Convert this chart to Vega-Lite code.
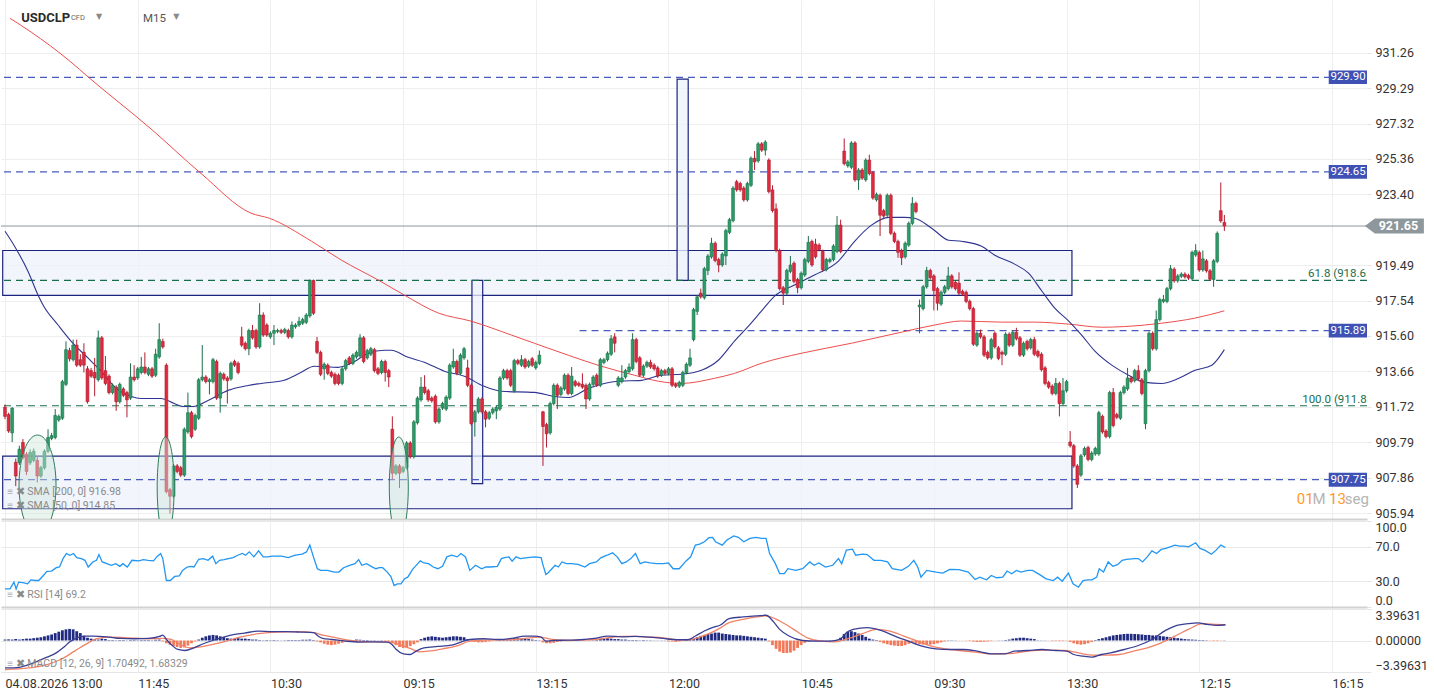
{
  "$schema": "https://vega.github.io/schema/vega-lite/v6.json",
  "padding": 0,
  "background": "white",
  "spacing": 0,
  "config": {
    "view": {"stroke": null},
    "font": "Roboto",
    "axis": {"labelFont": "Roboto", "labelColor": "#333333", "labelFontSize": 12.5, "gridColor": "#eeeeee", "labelOverlap": false}
  },
  "datasets": {
    "candles": [
      {"i":0,"o":911.7,"h":911.85,"l":911.05,"c":911.2,"m":0.1},
      {"i":1,"o":911.3,"h":911.4,"l":910.3,"c":910.4,"m":0.12},
      {"i":2,"o":910.3,"h":911.7,"l":909.8,"c":911.65,"m":0.1},
      {"i":3,"o":908.7,"h":908.9,"l":907.4,"c":907.95,"m":0.15},
      {"i":4,"o":908.67,"h":909.6,"l":908.55,"c":909.41,"m":0.1},
      {"i":5,"o":909.78,"h":909.96,"l":908.85,"c":908.95,"m":0.15},
      {"i":6,"o":909.13,"h":909.25,"l":908.0,"c":908.2,"m":0.2},
      {"i":7,"o":908.67,"h":909.4,"l":908.55,"c":909.23,"m":0.2},
      {"i":8,"o":908.8,"h":909.45,"l":908.7,"c":909.3,"m":0.25},
      {"i":9,"o":908.8,"h":909.0,"l":907.6,"c":907.95,"m":0.3},
      {"i":10,"o":907.95,"h":908.5,"l":907.85,"c":908.4,"m":0.35},
      {"i":11,"o":908.4,"h":909.4,"l":908.3,"c":909.3,"m":0.45},
      {"i":12,"o":909.3,"h":910.5,"l":909.2,"c":910.05,"m":0.55},
      {"i":13,"o":910.0,"h":910.3,"l":909.9,"c":910.15,"m":0.65},
      {"i":14,"o":910.05,"h":911.6,"l":909.95,"c":911.25,"m":0.8},
      {"i":15,"o":911.0,"h":911.3,"l":910.9,"c":911.2,"m":0.95},
      {"i":16,"o":911.1,"h":913.2,"l":911.0,"c":913.1,"m":1.1},
      {"i":17,"o":912.95,"h":915.3,"l":912.85,"c":914.85,"m":1.2},
      {"i":18,"o":914.8,"h":914.95,"l":914.2,"c":914.35,"m":1.25},
      {"i":19,"o":914.3,"h":915.4,"l":914.2,"c":915.1,"m":1.2},
      {"i":20,"o":915.1,"h":915.4,"l":913.9,"c":914.0,"m":1.0},
      {"i":21,"o":914.3,"h":914.6,"l":913.9,"c":914.0,"m":0.8},
      {"i":22,"o":914.7,"h":915.2,"l":913.6,"c":914.0,"m":0.5},
      {"i":23,"o":913.8,"h":913.95,"l":911.9,"c":912.0,"m":0.3},
      {"i":24,"o":913.7,"h":913.85,"l":913.3,"c":913.4,"m":0.2},
      {"i":25,"o":913.6,"h":914.4,"l":912.3,"c":913.3,"m":0.15},
      {"i":26,"o":913.2,"h":915.9,"l":913.1,"c":915.5,"m":0.1},
      {"i":27,"o":915.5,"h":915.6,"l":913.2,"c":913.3,"m":0.2},
      {"i":28,"o":913.7,"h":914.5,"l":912.9,"c":913.0,"m":0.15},
      {"i":29,"o":913.4,"h":913.5,"l":912.4,"c":912.5,"m":0.05},
      {"i":30,"o":912.5,"h":913.0,"l":912.4,"c":912.9,"m":0.05},
      {"i":31,"o":912.8,"h":912.9,"l":911.5,"c":912.0,"m":0.03},
      {"i":32,"o":912.0,"h":913.05,"l":911.9,"c":912.95,"m":0.05},
      {"i":33,"o":912.7,"h":912.8,"l":912.25,"c":912.35,"m":0.05},
      {"i":34,"o":912.5,"h":912.6,"l":911.15,"c":912.1,"m":0.02},
      {"i":35,"o":912.2,"h":914.1,"l":912.1,"c":913.35,"m":0.05},
      {"i":36,"o":913.35,"h":914.0,"l":913.1,"c":913.2,"m":0.05},
      {"i":37,"o":913.3,"h":913.9,"l":913.2,"c":913.8,"m":0.03},
      {"i":38,"o":913.6,"h":914.45,"l":913.5,"c":913.9,"m":0.05},
      {"i":39,"o":913.9,"h":914.7,"l":913.5,"c":913.6,"m":0.05},
      {"i":40,"o":913.5,"h":913.9,"l":913.4,"c":913.8,"m":0.05},
      {"i":41,"o":913.8,"h":913.9,"l":913.3,"c":913.4,"m":0.03},
      {"i":42,"o":913.45,"h":914.9,"l":913.35,"c":914.6,"m":0.08},
      {"i":43,"o":914.45,"h":916.3,"l":914.35,"c":915.4,"m":0.1},
      {"i":44,"o":915.3,"h":915.45,"l":914.9,"c":915.0,"m":-0.1},
      {"i":45,"o":914.0,"h":914.1,"l":907.0,"c":907.1,"m":-0.3},
      {"i":46,"o":907.2,"h":907.3,"l":905.9,"c":906.85,"m":-0.45},
      {"i":47,"o":906.85,"h":908.6,"l":906.75,"c":908.5,"m":-0.6},
      {"i":48,"o":908.5,"h":908.6,"l":908.1,"c":908.2,"m":-0.7},
      {"i":49,"o":908.4,"h":908.5,"l":907.9,"c":908.0,"m":-0.8},
      {"i":50,"o":908.0,"h":910.6,"l":907.9,"c":910.5,"m":-0.75},
      {"i":51,"o":910.35,"h":912.5,"l":910.25,"c":911.4,"m":-0.55},
      {"i":52,"o":911.4,"h":911.5,"l":910.0,"c":910.1,"m":-0.3},
      {"i":53,"o":910.5,"h":911.35,"l":910.4,"c":911.25,"m":-0.1},
      {"i":54,"o":911.1,"h":913.3,"l":911.0,"c":913.2,"m":0.1},
      {"i":55,"o":913.2,"h":915.1,"l":913.1,"c":913.35,"m":0.3},
      {"i":56,"o":913.35,"h":913.45,"l":913.0,"c":913.1,"m":0.45},
      {"i":57,"o":913.1,"h":913.3,"l":912.4,"c":913.2,"m":0.55},
      {"i":58,"o":913.1,"h":914.4,"l":913.0,"c":914.3,"m":0.6},
      {"i":59,"o":914.2,"h":914.3,"l":912.1,"c":912.2,"m":0.55},
      {"i":60,"o":912.2,"h":913.65,"l":911.4,"c":913.55,"m":0.45},
      {"i":61,"o":913.5,"h":913.6,"l":913.15,"c":913.25,"m":0.35},
      {"i":62,"o":913.3,"h":913.4,"l":911.9,"c":913.15,"m":0.25},
      {"i":63,"o":913.25,"h":914.2,"l":913.15,"c":914.1,"m":0.2},
      {"i":64,"o":914.2,"h":914.3,"l":913.9,"c":914.0,"m":0.2},
      {"i":65,"o":914.1,"h":914.2,"l":913.5,"c":913.6,"m":0.25},
      {"i":66,"o":915.55,"h":916.1,"l":915.0,"c":915.1,"m":0.2},
      {"i":67,"o":915.2,"h":915.3,"l":914.8,"c":914.9,"m":0.2},
      {"i":68,"o":914.9,"h":916.0,"l":914.55,"c":915.9,"m":0.15},
      {"i":69,"o":915.9,"h":916.2,"l":915.4,"c":915.5,"m":0.1},
      {"i":70,"o":915.9,"h":916.0,"l":914.9,"c":915.0,"m":0.1},
      {"i":71,"o":915.0,"h":917.4,"l":914.9,"c":916.75,"m":0.05},
      {"i":72,"o":916.75,"h":916.9,"l":915.55,"c":915.65,"m":0.03},
      {"i":73,"o":916.2,"h":916.3,"l":915.55,"c":915.65,"m":0.05},
      {"i":74,"o":915.55,"h":915.85,"l":915.45,"c":915.75,"m":0.03},
      {"i":75,"o":915.75,"h":916.2,"l":915.1,"c":915.9,"m":0.05},
      {"i":76,"o":915.85,"h":916.0,"l":915.75,"c":915.9,"m":0.03},
      {"i":77,"o":915.9,"h":916.0,"l":915.7,"c":915.8,"m":0.02},
      {"i":78,"o":915.8,"h":916.05,"l":915.7,"c":915.95,"m":0.03},
      {"i":79,"o":915.9,"h":916.0,"l":915.45,"c":915.55,"m":0.05},
      {"i":80,"o":915.55,"h":916.4,"l":915.45,"c":916.2,"m":0.05},
      {"i":81,"o":916.1,"h":916.3,"l":916.0,"c":916.2,"m":0.05},
      {"i":82,"o":916.2,"h":916.65,"l":916.1,"c":916.4,"m":0.05},
      {"i":83,"o":916.3,"h":916.6,"l":916.2,"c":916.5,"m":0.08},
      {"i":84,"o":916.35,"h":916.85,"l":916.25,"c":916.75,"m":0.08},
      {"i":85,"o":916.7,"h":918.7,"l":916.6,"c":918.65,"m":0.1},
      {"i":86,"o":918.65,"h":918.7,"l":916.75,"c":916.85,"m":0.05},
      {"i":87,"o":915.3,"h":915.55,"l":914.6,"c":914.7,"m":-0.1},
      {"i":88,"o":914.7,"h":914.8,"l":913.4,"c":913.5,"m":-0.2},
      {"i":89,"o":913.8,"h":914.15,"l":913.2,"c":914.05,"m":-0.35},
      {"i":90,"o":914.0,"h":914.1,"l":913.45,"c":913.55,"m":-0.45},
      {"i":91,"o":913.6,"h":913.7,"l":913.3,"c":913.4,"m":-0.5},
      {"i":92,"o":913.5,"h":913.6,"l":912.9,"c":913.0,"m":-0.45},
      {"i":93,"o":913.45,"h":913.55,"l":912.9,"c":913.0,"m":-0.35},
      {"i":94,"o":913.0,"h":913.9,"l":912.9,"c":913.8,"m":-0.25},
      {"i":95,"o":913.8,"h":914.35,"l":913.7,"c":914.25,"m":-0.15},
      {"i":96,"o":914.4,"h":914.5,"l":914.0,"c":914.1,"m":0.05},
      {"i":97,"o":914.1,"h":914.65,"l":914.0,"c":914.55,"m":0.05},
      {"i":98,"o":914.45,"h":914.8,"l":914.35,"c":914.7,"m":0.1},
      {"i":99,"o":914.5,"h":915.7,"l":914.4,"c":915.5,"m":0.08},
      {"i":100,"o":915.5,"h":915.6,"l":914.1,"c":914.2,"m":0.05},
      {"i":101,"o":914.4,"h":914.9,"l":914.3,"c":914.8,"m":0.05},
      {"i":102,"o":914.6,"h":915.0,"l":914.5,"c":914.9,"m":0.03},
      {"i":103,"o":914.85,"h":914.95,"l":913.6,"c":913.7,"m":0.03},
      {"i":104,"o":913.8,"h":913.9,"l":913.45,"c":913.55,"m":0.02},
      {"i":105,"o":913.6,"h":914.3,"l":913.5,"c":914.2,"m":0.03},
      {"i":106,"o":914.2,"h":914.3,"l":913.1,"c":913.6,"m":-0.05},
      {"i":107,"o":913.7,"h":913.8,"l":912.8,"c":913.35,"m":-0.15},
      {"i":108,"o":910.5,"h":911.2,"l":907.75,"c":908.1,"m":-0.3},
      {"i":109,"o":908.1,"h":908.6,"l":908.0,"c":908.5,"m":-0.5},
      {"i":110,"o":908.5,"h":908.6,"l":907.3,"c":908.1,"m":-0.7},
      {"i":111,"o":908.2,"h":908.5,"l":908.1,"c":908.4,"m":-0.8},
      {"i":112,"o":908.4,"h":909.85,"l":908.3,"c":909.75,"m":-0.75},
      {"i":113,"o":909.75,"h":909.85,"l":908.9,"c":909.0,"m":-0.6},
      {"i":114,"o":909.0,"h":911.0,"l":908.9,"c":910.9,"m":-0.4},
      {"i":115,"o":910.85,"h":912.3,"l":910.75,"c":912.2,"m":-0.2},
      {"i":116,"o":912.1,"h":913.35,"l":912.0,"c":912.8,"m":0.15},
      {"i":117,"o":912.8,"h":913.45,"l":912.4,"c":912.5,"m":0.3},
      {"i":118,"o":912.6,"h":912.7,"l":912.0,"c":912.1,"m":0.4},
      {"i":119,"o":912.2,"h":912.3,"l":911.95,"c":912.05,"m":0.45},
      {"i":120,"o":912.3,"h":912.4,"l":910.8,"c":910.9,"m":0.4},
      {"i":121,"o":910.9,"h":911.7,"l":910.8,"c":911.6,"m":0.35},
      {"i":122,"o":911.65,"h":912.0,"l":911.55,"c":911.9,"m":0.3},
      {"i":123,"o":911.6,"h":912.35,"l":911.5,"c":912.25,"m":0.35},
      {"i":124,"o":912.2,"h":914.1,"l":912.1,"c":914.0,"m":0.4},
      {"i":125,"o":913.9,"h":914.9,"l":913.8,"c":914.2,"m":0.45},
      {"i":126,"o":914.2,"h":914.3,"l":913.45,"c":913.55,"m":0.45},
      {"i":127,"o":913.55,"h":914.65,"l":913.45,"c":914.55,"m":0.4},
      {"i":128,"o":914.4,"h":915.0,"l":914.3,"c":914.9,"m":0.35},
      {"i":129,"o":913.85,"h":914.3,"l":912.8,"c":912.9,"m":0.15},
      {"i":130,"o":912.9,"h":913.0,"l":910.7,"c":910.8,"m":-0.05},
      {"i":131,"o":910.9,"h":911.55,"l":910.1,"c":911.45,"m":-0.15},
      {"i":132,"o":911.45,"h":912.25,"l":911.35,"c":912.15,"m":-0.2},
      {"i":133,"o":912.15,"h":912.25,"l":911.35,"c":911.45,"m":-0.2},
      {"i":134,"o":911.45,"h":911.55,"l":910.6,"c":911.05,"m":-0.15},
      {"i":135,"o":911.1,"h":911.5,"l":911.0,"c":911.4,"m":-0.1},
      {"i":136,"o":911.4,"h":911.7,"l":911.3,"c":911.6,"m":-0.05},
      {"i":137,"o":911.5,"h":911.8,"l":911.05,"c":911.7,"m":0.03},
      {"i":138,"o":911.6,"h":913.4,"l":911.5,"c":913.3,"m":0.05},
      {"i":139,"o":913.3,"h":913.8,"l":913.2,"c":913.7,"m":0.1},
      {"i":140,"o":913.7,"h":913.8,"l":913.2,"c":913.3,"m":0.15},
      {"i":141,"o":913.7,"h":913.8,"l":912.8,"c":912.9,"m":0.2},
      {"i":142,"o":912.6,"h":914.35,"l":912.5,"c":914.25,"m":0.25},
      {"i":143,"o":914.25,"h":914.35,"l":914.0,"c":914.1,"m":0.25},
      {"i":144,"o":914.0,"h":914.55,"l":913.9,"c":914.3,"m":0.2},
      {"i":145,"o":914.3,"h":914.4,"l":913.8,"c":913.9,"m":0.2},
      {"i":146,"o":913.95,"h":914.3,"l":913.85,"c":914.2,"m":0.15},
      {"i":147,"o":914.35,"h":914.45,"l":913.9,"c":914.0,"m":0.1},
      {"i":148,"o":913.85,"h":914.25,"l":913.75,"c":914.15,"m":0.05},
      {"i":149,"o":914.1,"h":914.8,"l":914.0,"c":914.55,"m":0.03},
      {"i":150,"o":911.45,"h":911.5,"l":908.5,"c":910.65,"m":-0.2},
      {"i":151,"o":910.75,"h":910.85,"l":909.5,"c":910.25,"m":-0.3},
      {"i":152,"o":910.3,"h":912.0,"l":910.2,"c":911.9,"m":-0.3},
      {"i":153,"o":911.9,"h":913.0,"l":911.8,"c":912.9,"m":-0.25},
      {"i":154,"o":912.9,"h":913.0,"l":911.6,"c":912.35,"m":-0.15},
      {"i":155,"o":912.4,"h":912.85,"l":912.3,"c":912.75,"m":-0.1},
      {"i":156,"o":912.7,"h":913.55,"l":912.6,"c":913.45,"m":-0.03},
      {"i":157,"o":913.45,"h":913.55,"l":912.35,"c":912.45,"m":0.02},
      {"i":158,"o":912.45,"h":913.9,"l":912.35,"c":913.4,"m":0.03},
      {"i":159,"o":913.1,"h":913.2,"l":912.8,"c":912.9,"m":-0.02},
      {"i":160,"o":913.0,"h":913.1,"l":912.8,"c":912.9,"m":0.02},
      {"i":161,"o":912.95,"h":913.55,"l":912.7,"c":912.8,"m":0.03},
      {"i":162,"o":912.9,"h":913.0,"l":911.6,"c":912.15,"m":-0.03},
      {"i":163,"o":912.15,"h":913.05,"l":912.05,"c":912.95,"m":0.02},
      {"i":164,"o":912.95,"h":913.45,"l":912.85,"c":913.35,"m":0.03},
      {"i":165,"o":913.45,"h":913.55,"l":912.8,"c":912.9,"m":0.1},
      {"i":166,"o":912.9,"h":914.4,"l":912.8,"c":914.3,"m":0.15},
      {"i":167,"o":914.15,"h":914.4,"l":914.05,"c":914.3,"m":0.2},
      {"i":168,"o":914.3,"h":914.75,"l":914.2,"c":914.65,"m":0.25},
      {"i":169,"o":914.6,"h":915.65,"l":914.5,"c":915.45,"m":0.2},
      {"i":170,"o":915.55,"h":915.75,"l":914.7,"c":915.2,"m":0.15},
      {"i":171,"o":912.9,"h":913.4,"l":912.8,"c":913.3,"m":0.15},
      {"i":172,"o":913.1,"h":914.0,"l":913.0,"c":913.3,"m":0.1},
      {"i":173,"o":913.35,"h":913.8,"l":913.25,"c":913.7,"m":0.1},
      {"i":174,"o":913.65,"h":914.1,"l":913.55,"c":913.9,"m":0.05},
      {"i":175,"o":913.8,"h":915.75,"l":913.7,"c":915.4,"m":0.05},
      {"i":176,"o":915.4,"h":915.5,"l":914.1,"c":914.2,"m":0.05},
      {"i":177,"o":914.4,"h":914.5,"l":913.35,"c":913.45,"m":0.03},
      {"i":178,"o":913.45,"h":914.05,"l":913.35,"c":913.95,"m":0.05},
      {"i":179,"o":913.95,"h":914.25,"l":913.85,"c":914.15,"m":0.03},
      {"i":180,"o":914.15,"h":914.3,"l":913.8,"c":913.9,"m":0.03},
      {"i":181,"o":914.0,"h":914.1,"l":913.7,"c":913.8,"m":0.02},
      {"i":182,"o":913.85,"h":913.95,"l":913.3,"c":913.4,"m":0.02},
      {"i":183,"o":913.45,"h":913.8,"l":913.35,"c":913.7,"m":0.02},
      {"i":184,"o":913.7,"h":913.8,"l":913.45,"c":913.55,"m":0.02},
      {"i":185,"o":913.55,"h":913.9,"l":913.45,"c":913.8,"m":-0.1},
      {"i":186,"o":913.8,"h":913.9,"l":912.8,"c":912.9,"m":-0.1},
      {"i":187,"o":912.95,"h":913.05,"l":912.75,"c":912.85,"m":-0.15},
      {"i":188,"o":912.85,"h":913.15,"l":912.75,"c":913.05,"m":-0.1},
      {"i":189,"o":912.9,"h":913.7,"l":912.8,"c":913.6,"m":-0.05},
      {"i":190,"o":913.6,"h":914.15,"l":913.5,"c":914.05,"m":0.05},
      {"i":191,"o":914.0,"h":914.9,"l":913.9,"c":914.4,"m":0.1},
      {"i":192,"o":915.4,"h":917.15,"l":915.3,"c":917.05,"m":0.2},
      {"i":193,"o":916.95,"h":917.85,"l":916.75,"c":917.75,"m":0.35},
      {"i":194,"o":917.95,"h":918.2,"l":917.65,"c":917.75,"m":0.5},
      {"i":195,"o":917.7,"h":919.4,"l":917.6,"c":919.3,"m":0.6},
      {"i":196,"o":919.2,"h":920.1,"l":918.95,"c":920.0,"m":0.7},
      {"i":197,"o":919.95,"h":921.0,"l":919.85,"c":920.7,"m":0.75},
      {"i":198,"o":920.7,"h":920.8,"l":919.65,"c":919.75,"m":0.85},
      {"i":199,"o":919.8,"h":919.9,"l":919.1,"c":919.5,"m":0.85},
      {"i":200,"o":919.5,"h":920.2,"l":919.4,"c":920.1,"m":0.75},
      {"i":201,"o":920.0,"h":921.5,"l":919.5,"c":921.4,"m":0.7},
      {"i":202,"o":921.3,"h":922.1,"l":921.2,"c":922.0,"m":0.65},
      {"i":203,"o":921.95,"h":923.85,"l":921.85,"c":923.75,"m":0.6},
      {"i":204,"o":924.1,"h":924.2,"l":923.55,"c":923.65,"m":0.55},
      {"i":205,"o":924.0,"h":924.1,"l":923.55,"c":923.65,"m":0.55},
      {"i":206,"o":923.75,"h":923.85,"l":923.0,"c":923.1,"m":0.5},
      {"i":207,"o":923.1,"h":924.1,"l":923.0,"c":924.0,"m":0.45},
      {"i":208,"o":923.9,"h":925.5,"l":923.8,"c":925.4,"m":0.4},
      {"i":209,"o":925.4,"h":925.8,"l":924.75,"c":925.2,"m":0.35},
      {"i":210,"o":925.25,"h":926.3,"l":925.15,"c":926.2,"m":0.3},
      {"i":211,"o":926.2,"h":926.3,"l":925.75,"c":925.85,"m":0.25},
      {"i":212,"o":925.85,"h":926.4,"l":925.55,"c":926.3,"m":0.2},
      {"i":213,"o":925.3,"h":925.4,"l":923.45,"c":923.55,"m":-0.1},
      {"i":214,"o":923.65,"h":923.9,"l":922.4,"c":922.5,"m":-0.5},
      {"i":215,"o":922.6,"h":922.9,"l":920.2,"c":920.3,"m":-0.9},
      {"i":216,"o":920.3,"h":920.4,"l":918.1,"c":918.2,"m":-1.2},
      {"i":217,"o":918.25,"h":918.35,"l":917.3,"c":917.95,"m":-1.35},
      {"i":218,"o":917.95,"h":919.3,"l":917.85,"c":919.2,"m":-1.35},
      {"i":219,"o":919.15,"h":920.0,"l":919.05,"c":919.5,"m":-1.3},
      {"i":220,"o":919.6,"h":919.7,"l":918.5,"c":918.6,"m":-1.1},
      {"i":221,"o":918.7,"h":918.8,"l":917.95,"c":918.25,"m":-0.8},
      {"i":222,"o":918.25,"h":919.15,"l":918.15,"c":919.05,"m":-0.5},
      {"i":223,"o":918.95,"h":919.9,"l":918.85,"c":919.8,"m":-0.25},
      {"i":224,"o":919.7,"h":921.1,"l":919.6,"c":920.75,"m":-0.1},
      {"i":225,"o":920.8,"h":920.9,"l":919.4,"c":919.5,"m":0.02},
      {"i":226,"o":920.65,"h":920.95,"l":919.85,"c":919.95,"m":0.02},
      {"i":227,"o":920.6,"h":920.7,"l":920.25,"c":920.35,"m":0.03},
      {"i":228,"o":920.25,"h":920.35,"l":919.15,"c":919.25,"m":0.02},
      {"i":229,"o":919.25,"h":919.9,"l":919.15,"c":919.8,"m":0.02},
      {"i":230,"o":919.7,"h":919.9,"l":919.6,"c":919.8,"m":0.03},
      {"i":231,"o":919.8,"h":920.65,"l":919.7,"c":920.55,"m":0.02},
      {"i":232,"o":920.25,"h":922.2,"l":920.15,"c":921.7,"m":0.05},
      {"i":233,"o":921.7,"h":922.0,"l":920.15,"c":920.25,"m":0.3},
      {"i":234,"o":925.8,"h":926.5,"l":925.0,"c":925.1,"m":0.7},
      {"i":235,"o":924.98,"h":925.3,"l":924.88,"c":925.2,"m":0.95},
      {"i":236,"o":924.9,"h":926.35,"l":924.8,"c":926.25,"m":1.0},
      {"i":237,"o":926.25,"h":926.35,"l":924.1,"c":924.2,"m":0.9},
      {"i":238,"o":924.2,"h":924.85,"l":923.65,"c":924.75,"m":0.75},
      {"i":239,"o":924.75,"h":924.85,"l":924.2,"c":924.3,"m":0.6},
      {"i":240,"o":924.2,"h":925.4,"l":924.1,"c":925.3,"m":0.4},
      {"i":241,"o":925.3,"h":925.6,"l":924.45,"c":924.55,"m":0.2},
      {"i":242,"o":924.6,"h":924.7,"l":923.1,"c":923.2,"m":0.1},
      {"i":243,"o":923.1,"h":923.5,"l":923.0,"c":923.4,"m":0.05},
      {"i":244,"o":923.35,"h":923.45,"l":921.1,"c":922.25,"m":-0.15},
      {"i":245,"o":922.5,"h":922.6,"l":922.1,"c":922.2,"m":-0.3},
      {"i":246,"o":922.25,"h":923.45,"l":922.15,"c":923.35,"m":-0.4},
      {"i":247,"o":923.35,"h":923.45,"l":921.15,"c":921.25,"m":-0.5},
      {"i":248,"o":921.25,"h":921.35,"l":920.7,"c":920.8,"m":-0.55},
      {"i":249,"o":920.8,"h":920.9,"l":919.9,"c":920.2,"m":-0.6},
      {"i":250,"o":920.3,"h":920.4,"l":919.5,"c":919.9,"m":-0.6},
      {"i":251,"o":919.95,"h":920.8,"l":919.85,"c":920.7,"m":-0.5},
      {"i":252,"o":920.6,"h":921.9,"l":920.5,"c":921.8,"m":-0.35},
      {"i":253,"o":921.8,"h":923.25,"l":921.7,"c":922.9,"m":-0.2},
      {"i":254,"o":922.9,"h":923.0,"l":922.35,"c":922.45,"m":-0.3},
      {"i":255,"o":917.2,"h":917.6,"l":915.75,"c":917.3,"m":-0.4},
      {"i":256,"o":917.1,"h":918.4,"l":917.0,"c":918.3,"m":-0.45},
      {"i":257,"o":918.3,"h":919.4,"l":918.2,"c":919.2,"m":-0.5},
      {"i":258,"o":919.2,"h":919.3,"l":918.7,"c":918.8,"m":-0.45},
      {"i":259,"o":918.9,"h":919.0,"l":917.0,"c":918.1,"m":-0.4},
      {"i":260,"o":918.2,"h":918.3,"l":917.0,"c":917.4,"m":-0.3},
      {"i":261,"o":917.35,"h":918.1,"l":917.25,"c":918.0,"m":-0.2},
      {"i":262,"o":918.0,"h":918.4,"l":917.9,"c":918.3,"m":-0.1},
      {"i":263,"o":918.2,"h":919.4,"l":918.1,"c":918.9,"m":0.03},
      {"i":264,"o":918.9,"h":919.0,"l":918.2,"c":918.3,"m":0.03},
      {"i":265,"o":918.55,"h":918.65,"l":918.1,"c":918.2,"m":0.02},
      {"i":266,"o":918.5,"h":919.1,"l":917.85,"c":917.95,"m":-0.02},
      {"i":267,"o":918.05,"h":918.15,"l":917.8,"c":917.9,"m":-0.02},
      {"i":268,"o":918.0,"h":918.1,"l":917.4,"c":917.5,"m":-0.03},
      {"i":269,"o":917.5,"h":917.6,"l":917.0,"c":917.1,"m":-0.05},
      {"i":270,"o":917.1,"h":917.2,"l":915.05,"c":915.15,"m":-0.1},
      {"i":271,"o":915.1,"h":915.85,"l":915.0,"c":915.75,"m":-0.15},
      {"i":272,"o":915.75,"h":915.95,"l":915.45,"c":915.55,"m":-0.15},
      {"i":273,"o":915.55,"h":915.65,"l":914.45,"c":914.55,"m":-0.12},
      {"i":274,"o":914.7,"h":914.8,"l":914.3,"c":914.4,"m":-0.1},
      {"i":275,"o":914.4,"h":915.5,"l":914.3,"c":915.4,"m":-0.05},
      {"i":276,"o":915.75,"h":915.85,"l":914.9,"c":915.0,"m":-0.02},
      {"i":277,"o":914.95,"h":915.05,"l":914.27,"c":914.37,"m":0.02},
      {"i":278,"o":914.7,"h":914.8,"l":914.0,"c":914.6,"m":0.02},
      {"i":279,"o":914.6,"h":915.8,"l":914.5,"c":915.7,"m":0.05},
      {"i":280,"o":915.7,"h":915.8,"l":915.0,"c":915.1,"m":0.1},
      {"i":281,"o":915.1,"h":915.9,"l":915.0,"c":915.8,"m":0.2},
      {"i":282,"o":915.8,"h":916.05,"l":915.35,"c":915.45,"m":0.25},
      {"i":283,"o":915.5,"h":915.6,"l":914.45,"c":914.55,"m":0.3},
      {"i":284,"o":914.55,"h":915.3,"l":914.45,"c":915.2,"m":0.3},
      {"i":285,"o":915.3,"h":915.4,"l":914.8,"c":914.9,"m":0.25},
      {"i":286,"o":914.95,"h":915.5,"l":914.85,"c":915.4,"m":0.2},
      {"i":287,"o":915.4,"h":915.55,"l":914.5,"c":914.6,"m":0.15},
      {"i":288,"o":914.75,"h":914.85,"l":914.4,"c":914.5,"m":0.03},
      {"i":289,"o":914.6,"h":914.7,"l":913.65,"c":913.75,"m":0.02},
      {"i":290,"o":913.85,"h":913.95,"l":912.9,"c":913.0,"m":0.02},
      {"i":291,"o":913.05,"h":913.15,"l":912.7,"c":912.8,"m":-0.02},
      {"i":292,"o":912.85,"h":912.95,"l":912.35,"c":912.45,"m":-0.05},
      {"i":293,"o":912.45,"h":913.3,"l":912.35,"c":913.0,"m":-0.05},
      {"i":294,"o":913.0,"h":913.1,"l":911.2,"c":911.9,"m":-0.05},
      {"i":295,"o":911.9,"h":913.3,"l":911.8,"c":912.6,"m":-0.05},
      {"i":296,"o":912.6,"h":913.2,"l":912.5,"c":913.1,"m":-0.03},
      {"i":297,"o":909.8,"h":910.4,"l":909.5,"c":909.6,"m":-0.15},
      {"i":298,"o":909.6,"h":909.7,"l":908.4,"c":908.5,"m":-0.3},
      {"i":299,"o":908.5,"h":908.6,"l":907.3,"c":907.5,"m":-0.4},
      {"i":300,"o":908.0,"h":909.15,"l":907.9,"c":909.05,"m":-0.45},
      {"i":301,"o":909.1,"h":909.55,"l":909.0,"c":909.45,"m":-0.4},
      {"i":302,"o":909.5,"h":909.6,"l":908.75,"c":908.85,"m":-0.3},
      {"i":303,"o":908.85,"h":909.3,"l":908.75,"c":909.2,"m":-0.15},
      {"i":304,"o":909.15,"h":909.55,"l":909.05,"c":909.45,"m":0.05},
      {"i":305,"o":909.15,"h":911.5,"l":909.05,"c":911.4,"m":0.15},
      {"i":306,"o":911.2,"h":911.3,"l":910.25,"c":910.35,"m":0.25},
      {"i":307,"o":910.4,"h":910.5,"l":910.0,"c":910.1,"m":0.35},
      {"i":308,"o":910.1,"h":912.6,"l":910.0,"c":912.5,"m":0.45},
      {"i":309,"o":912.5,"h":912.75,"l":910.6,"c":910.7,"m":0.55},
      {"i":310,"o":911.3,"h":911.4,"l":911.05,"c":911.15,"m":0.6},
      {"i":311,"o":911.1,"h":912.6,"l":911.0,"c":912.5,"m":0.65},
      {"i":312,"o":912.5,"h":912.9,"l":912.4,"c":912.8,"m":0.7},
      {"i":313,"o":912.7,"h":913.85,"l":912.6,"c":913.3,"m":0.72},
      {"i":314,"o":913.3,"h":913.4,"l":913.0,"c":913.1,"m":0.72},
      {"i":315,"o":913.15,"h":913.8,"l":913.05,"c":913.7,"m":0.7},
      {"i":316,"o":913.7,"h":914.0,"l":913.15,"c":913.25,"m":0.68},
      {"i":317,"o":913.2,"h":913.3,"l":912.35,"c":912.45,"m":0.65},
      {"i":318,"o":910.8,"h":913.8,"l":910.5,"c":913.7,"m":0.6},
      {"i":319,"o":913.7,"h":915.85,"l":913.6,"c":915.75,"m":0.6},
      {"i":320,"o":915.75,"h":915.85,"l":914.8,"c":914.9,"m":0.55},
      {"i":321,"o":914.9,"h":917.0,"l":914.8,"c":916.5,"m":0.55},
      {"i":322,"o":916.5,"h":917.7,"l":916.4,"c":917.6,"m":0.5},
      {"i":323,"o":917.5,"h":917.85,"l":917.4,"c":917.6,"m":0.45},
      {"i":324,"o":917.5,"h":918.3,"l":917.4,"c":918.2,"m":0.4},
      {"i":325,"o":918.2,"h":919.5,"l":918.1,"c":919.3,"m":0.35},
      {"i":326,"o":919.27,"h":919.37,"l":918.53,"c":918.63,"m":0.3},
      {"i":327,"o":918.63,"h":919.0,"l":918.53,"c":918.9,"m":0.25},
      {"i":328,"o":918.88,"h":919.1,"l":918.78,"c":919.0,"m":0.2},
      {"i":329,"o":919.0,"h":919.1,"l":918.75,"c":918.85,"m":0.15},
      {"i":330,"o":918.92,"h":919.02,"l":918.68,"c":918.78,"m":0.12},
      {"i":331,"o":918.74,"h":920.3,"l":918.64,"c":920.2,"m":0.1},
      {"i":332,"o":920.05,"h":920.65,"l":919.95,"c":920.3,"m":0.08},
      {"i":333,"o":920.2,"h":920.3,"l":919.13,"c":919.23,"m":0.05},
      {"i":334,"o":919.23,"h":920.3,"l":919.13,"c":919.84,"m":0.05},
      {"i":335,"o":919.73,"h":919.83,"l":919.08,"c":919.18,"m":0.03},
      {"i":336,"o":919.18,"h":919.28,"l":918.62,"c":918.72,"m":-0.03},
      {"i":337,"o":918.7,"h":919.83,"l":918.3,"c":919.73,"m":-0.05},
      {"i":338,"o":919.7,"h":921.35,"l":919.6,"c":921.25,"m":-0.05},
      {"i":339,"o":922.5,"h":924.06,"l":921.83,"c":921.93,"m":-0.03},
      {"i":340,"o":921.85,"h":922.26,"l":921.38,"c":921.65,"m":0.02}
    ],
    "sma200": [
      {"i":1.4,"v":933.19},{"i":7.3,"v":932.42},{"i":17.6,"v":930.88},{"i":24,"v":929.78},{"i":40.7,"v":927.03},
      {"i":54.7,"v":924.55},{"i":68.6,"v":922.36},{"i":73.7,"v":922.08},{"i":85.4,"v":920.82},{"i":93.8,"v":919.77},
      {"i":104.1,"v":918.67},{"i":111.3,"v":917.85},{"i":120.8,"v":916.86},{"i":130,"v":916.41},{"i":141.2,"v":915.65},
      {"i":147.6,"v":915.2},{"i":157.1,"v":914.54},{"i":166.3,"v":913.94},{"i":175.5,"v":913.45},{"i":182.2,"v":913.12},
      {"i":188.6,"v":913.0},{"i":197.8,"v":913.28},{"i":203.4,"v":913.55},{"i":210.9,"v":914.1},{"i":222,"v":914.65},
      {"i":236,"v":915.2},{"i":250,"v":915.81},{"i":259.2,"v":916.2},{"i":266.7,"v":916.42},{"i":277.9,"v":916.36},
      {"i":287.1,"v":916.36},{"i":296.6,"v":916.25},{"i":305.8,"v":916.08},{"i":317.8,"v":916.2},{"i":322.5,"v":916.3},
      {"i":331.8,"v":916.58},{"i":340,"v":916.98}
    ],
    "sma50": [
      {"i":0,"v":921.36},{"i":2.5,"v":920.59},{"i":6.4,"v":919.16},{"i":9.2,"v":917.85},{"i":10.6,"v":917.3},
      {"i":14.8,"v":916.2},{"i":18.4,"v":915.32},{"i":23.2,"v":914.38},{"i":26.8,"v":913.67},{"i":30.4,"v":912.84},
      {"i":35.2,"v":912.29},{"i":37.9,"v":912.18},{"i":43.5,"v":912.18},{"i":47.2,"v":911.9},{"i":49.7,"v":911.74},
      {"i":52.5,"v":911.74},{"i":56.6,"v":912.07},{"i":62.2,"v":912.62},{"i":67.8,"v":912.89},{"i":71.4,"v":913.0},
      {"i":77.8,"v":913.17},{"i":82.6,"v":913.61},{"i":86.2,"v":913.94},{"i":92.9,"v":913.88},{"i":96.5,"v":914.1},
      {"i":101.3,"v":914.65},{"i":105.7,"v":914.82},{"i":107.7,"v":914.82},{"i":112.4,"v":914.43},{"i":116.9,"v":914.16},
      {"i":122.5,"v":913.67},{"i":128.1,"v":913.39},{"i":133.6,"v":912.84},{"i":138.4,"v":912.57},{"i":147.6,"v":912.51},
      {"i":153.2,"v":912.29},{"i":157.1,"v":912.23},{"i":162.7,"v":912.73},{"i":171,"v":913.12},{"i":177.5,"v":913.17},
      {"i":183,"v":913.45},{"i":188.6,"v":913.5},{"i":194.2,"v":913.72},{"i":198.9,"v":914.27},{"i":203.4,"v":915.32},
      {"i":207.3,"v":916.14},{"i":210.9,"v":916.96},{"i":214.6,"v":917.79},{"i":220.1,"v":918.4},{"i":225.7,"v":918.95},
      {"i":232.4,"v":919.72},{"i":236.9,"v":920.81},{"i":241.6,"v":921.7},{"i":246.4,"v":922.13},{"i":250.8,"v":922.13},
      {"i":253.6,"v":922.08},{"i":258.4,"v":921.53},{"i":263.1,"v":920.87},{"i":266.7,"v":920.81},{"i":272.3,"v":920.54},
      {"i":276,"v":920.04},{"i":281.5,"v":919.55},{"i":285.4,"v":919.05},{"i":289.1,"v":918.07},{"i":292.7,"v":917.13},
      {"i":296.6,"v":916.42},{"i":300.2,"v":915.65},{"i":303.9,"v":914.77},{"i":308.6,"v":914.0},{"i":313.3,"v":913.45},
      {"i":317.8,"v":913.06},{"i":322.5,"v":913.0},{"i":327.3,"v":913.28},{"i":331.8,"v":913.72},{"i":336.5,"v":914.0},
      {"i":340,"v":914.85}
    ],
    "rsi": [
      {"i":0,"v":21.0},{"i":1.4,"v":21.0},{"i":2.5,"v":28.9},{"i":3.1,"v":21.0},{"i":3.8,"v":28.9},{"i":5.3,"v":28.1},
      {"i":6.3,"v":26.9},{"i":7.2,"v":31.6},{"i":8.5,"v":30.8},{"i":9.4,"v":30.8},{"i":10.7,"v":36.7},{"i":11.7,"v":41.4},
      {"i":13,"v":41.8},{"i":14.3,"v":45.7},{"i":15.2,"v":46.5},{"i":16.2,"v":56.3},{"i":17.1,"v":62.2},{"i":18.1,"v":60.2},
      {"i":19.1,"v":62.2},{"i":20,"v":57.5},{"i":21.3,"v":56.3},{"i":22.3,"v":54.3},{"i":23.2,"v":46.5},{"i":24.5,"v":52.4},
      {"i":25.5,"v":54.3},{"i":26.2,"v":61.0},{"i":27.1,"v":52.4},{"i":28.4,"v":50.4},{"i":29.6,"v":48.5},{"i":30.9,"v":50.4},
      {"i":32,"v":47.3},{"i":32.9,"v":50.4},{"i":34.1,"v":46.5},{"i":35.4,"v":54.3},{"i":37.3,"v":53.6},{"i":38.6,"v":55.1},
      {"i":39.9,"v":54.3},{"i":41.4,"v":53.6},{"i":42.5,"v":59.1},{"i":43.4,"v":62.2},{"i":44,"v":56.3},{"i":45,"v":30.8},
      {"i":46.1,"v":30.8},{"i":47.3,"v":35.5},{"i":48.6,"v":36.3},{"i":49.5,"v":42.6},{"i":50.8,"v":46.5},{"i":51.8,"v":47.3},
      {"i":52.7,"v":46.5},{"i":54,"v":55.5},{"i":55.3,"v":56.3},{"i":56.6,"v":54.3},{"i":57.9,"v":59.1},{"i":58.8,"v":50.4},
      {"i":59.8,"v":54.3},{"i":61.1,"v":55.1},{"i":62.3,"v":56.3},{"i":63.6,"v":57.5},{"i":64.9,"v":60.2},{"i":66.2,"v":62.2},
      {"i":67.1,"v":60.2},{"i":68.1,"v":64.1},{"i":69.4,"v":58.3},{"i":70.7,"v":65.3},{"i":72,"v":58.3},{"i":73.2,"v":58.3},
      {"i":74.5,"v":59.1},{"i":77.1,"v":59.1},{"i":79,"v":57.5},{"i":80.9,"v":60.2},{"i":82.9,"v":61.4},{"i":84.1,"v":64.1},
      {"i":85,"v":72.0},{"i":86,"v":58.3},{"i":87.1,"v":44.5},{"i":88,"v":42.6},{"i":89.9,"v":42.6},{"i":91.8,"v":40.6},
      {"i":93.1,"v":40.6},{"i":94.4,"v":45.7},{"i":96.1,"v":48.5},{"i":97.6,"v":50.4},{"i":98.6,"v":55.1},{"i":99.5,"v":48.5},
      {"i":100.8,"v":50.4},{"i":102.1,"v":47.3},{"i":103.4,"v":44.5},{"i":104.4,"v":45.7},{"i":105.3,"v":45.7},{"i":106.6,"v":40.6},
      {"i":107.6,"v":35.5},{"i":108.5,"v":24.9},{"i":109.4,"v":26.9},{"i":110.4,"v":26.9},{"i":111.4,"v":32.8},{"i":112.3,"v":34.7},
      {"i":113.6,"v":43.4},{"i":114.9,"v":49.6},{"i":115.8,"v":53.6},{"i":116.8,"v":51.2},{"i":118.1,"v":50.4},{"i":119.4,"v":46.5},
      {"i":120.7,"v":44.5},{"i":122,"v":47.3},{"i":123.2,"v":58.3},{"i":124.5,"v":60.2},{"i":126.1,"v":58.3},{"i":127.1,"v":62.2},
      {"i":128.4,"v":58.3},{"i":129.6,"v":42.6},{"i":131.2,"v":48.5},{"i":132.9,"v":44.5},{"i":134.1,"v":46.5},{"i":135.4,"v":46.5},
      {"i":137.3,"v":47.3},{"i":138.4,"v":56.3},{"i":139.3,"v":57.5},{"i":140.5,"v":58.3},{"i":141.4,"v":53.2},{"i":142.5,"v":58.3},
      {"i":143.7,"v":56.3},{"i":145.7,"v":57.5},{"i":147.6,"v":58.3},{"i":149.5,"v":57.5},{"i":149.9,"v":50.4},{"i":150.8,"v":37.9},
      {"i":151.4,"v":39.5},{"i":152.5,"v":44.5},{"i":153.4,"v":48.5},{"i":154.3,"v":46.5},{"i":155.3,"v":52.4},{"i":156.6,"v":50.4},
      {"i":157.9,"v":50.4},{"i":159.8,"v":49.6},{"i":161.7,"v":46.5},{"i":163,"v":50.4},{"i":164.9,"v":52.4},{"i":166.2,"v":57.5},
      {"i":167.9,"v":60.2},{"i":169.4,"v":63.0},{"i":170.7,"v":58.3},{"i":172,"v":50.4},{"i":173.2,"v":52.4},{"i":174.5,"v":56.3},
      {"i":175.8,"v":62.2},{"i":177.1,"v":50.4},{"i":178.4,"v":52.4},{"i":179.9,"v":51.2},{"i":181.6,"v":50.4},{"i":183.5,"v":50.4},
      {"i":185,"v":51.2},{"i":186.3,"v":44.5},{"i":188,"v":44.5},{"i":189.9,"v":53.6},{"i":191.2,"v":58.3},{"i":192.5,"v":72.0},
      {"i":193.7,"v":73.2},{"i":195,"v":75.9},{"i":196.3,"v":80.6},{"i":197.3,"v":81.0},{"i":198.1,"v":75.9},{"i":200,"v":72.0},
      {"i":201.3,"v":77.9},{"i":203.2,"v":82.6},{"i":204.5,"v":81.0},{"i":206,"v":75.9},{"i":207.7,"v":79.8},{"i":209.4,"v":81.0},
      {"i":210.9,"v":79.8},{"i":212.2,"v":79.8},{"i":213.2,"v":62.2},{"i":214.8,"v":50.4},{"i":216,"v":38.7},{"i":217.3,"v":38.7},
      {"i":218.3,"v":44.5},{"i":220.5,"v":42.6},{"i":222.4,"v":44.5},{"i":224.4,"v":52.4},{"i":225.6,"v":48.5},{"i":226.9,"v":51.2},
      {"i":228.8,"v":46.5},{"i":230.8,"v":48.5},{"i":232.4,"v":56.3},{"i":233.3,"v":50.4},{"i":234.6,"v":66.1},{"i":236.3,"v":67.3},
      {"i":237.2,"v":60.2},{"i":239.1,"v":61.4},{"i":240.4,"v":61.0},{"i":242.3,"v":54.3},{"i":244.2,"v":54.3},{"i":246.1,"v":52.4},
      {"i":247.4,"v":44.5},{"i":250,"v":42.6},{"i":251.9,"v":47.3},{"i":253.4,"v":54.3},{"i":254.5,"v":46.5},{"i":255.4,"v":34.7},
      {"i":257,"v":42.6},{"i":259.6,"v":40.6},{"i":261.5,"v":39.4},{"i":263.4,"v":43.8},{"i":266,"v":43.4},{"i":268.6,"v":40.6},
      {"i":270.5,"v":32.0},{"i":271.8,"v":34.7},{"i":273.7,"v":31.6},{"i":275,"v":36.7},{"i":276.5,"v":34.0},{"i":278.2,"v":34.7},
      {"i":279.4,"v":41.8},{"i":280.7,"v":38.7},{"i":282,"v":42.6},{"i":283.3,"v":40.6},{"i":285.2,"v":42.6},{"i":286.5,"v":42.6},
      {"i":288.4,"v":37.9},{"i":290.3,"v":32.8},{"i":292.3,"v":30.8},{"i":293.5,"v":34.7},{"i":294.8,"v":30.0},{"i":296.5,"v":39.4},
      {"i":297.8,"v":26.9},{"i":299.3,"v":23.0},{"i":300.6,"v":30.8},{"i":301.9,"v":31.6},{"i":303.1,"v":31.6},{"i":304.4,"v":34.7},
      {"i":305.1,"v":44.5},{"i":306.3,"v":40.6},{"i":307.6,"v":52.4},{"i":308.9,"v":47.3},{"i":310.2,"v":49.2},{"i":311.5,"v":54.3},
      {"i":312.7,"v":55.5},{"i":314.9,"v":56.3},{"i":316,"v":56.3},{"i":317.2,"v":52.4},{"i":318.5,"v":58.3},{"i":319.8,"v":65.3},
      {"i":321.1,"v":62.2},{"i":322.4,"v":66.9},{"i":323.6,"v":68.1},{"i":324.9,"v":70.0},{"i":326.2,"v":72.0},{"i":327.5,"v":70.8},
      {"i":328.8,"v":70.8},{"i":330,"v":70.0},{"i":332,"v":74.7},{"i":333.2,"v":68.1},{"i":334.5,"v":66.1},{"i":336.4,"v":61.4},
      {"i":337.7,"v":66.1},{"i":339,"v":72.0},{"i":340.3,"v":69.2}
    ],
    "macd": [
      {"i":0,"v":-2.96},{"i":4,"v":-2.89},{"i":6.6,"v":-2.6},{"i":9.1,"v":-2.23},{"i":11.7,"v":-1.8},{"i":14.3,"v":-1.33},
      {"i":16.2,"v":-0.79},{"i":18.1,"v":-0.14},{"i":20,"v":0.29},{"i":22,"v":0.48},{"i":24.5,"v":0.48},{"i":28.4,"v":0.4},
      {"i":32.2,"v":0.22},{"i":36.1,"v":0.19},{"i":39.9,"v":0.22},{"i":43.1,"v":0.44},{"i":44,"v":0.58},{"i":45,"v":0.11},
      {"i":46.3,"v":-0.43},{"i":48.2,"v":-0.97},{"i":50.2,"v":-1.08},{"i":52.7,"v":-0.79},{"i":55.3,"v":-0.35},{"i":57.9,"v":0.0},
      {"i":60.4,"v":0.29},{"i":63,"v":0.58},{"i":66.8,"v":0.8},{"i":70.7,"v":1.02},{"i":74.5,"v":0.95},{"i":78.4,"v":0.95},
      {"i":82.2,"v":0.91},{"i":86.1,"v":0.84},{"i":87.3,"v":0.48},{"i":88.6,"v":0.22},{"i":91.2,"v":0.11},{"i":95,"v":-0.07},
      {"i":98.9,"v":-0.17},{"i":102.7,"v":-0.14},{"i":106.6,"v":-0.17},{"i":107.9,"v":-0.43},{"i":109.1,"v":-0.97},{"i":111.1,"v":-1.44},
      {"i":113,"v":-1.51},{"i":114.3,"v":-1.22},{"i":116.8,"v":-0.79},{"i":120.7,"v":-0.64},{"i":124.5,"v":-0.5},{"i":127.1,"v":-0.17},
      {"i":129.6,"v":0.11},{"i":133.5,"v":0.19},{"i":137.3,"v":0.11},{"i":141.2,"v":0.22},{"i":145,"v":0.48},{"i":147.6,"v":0.48},
      {"i":149.5,"v":0.37},{"i":150.8,"v":-0.07},{"i":152.7,"v":0.0},{"i":156.6,"v":0.04},{"i":160.4,"v":0.08},{"i":164.3,"v":0.22},
      {"i":168.1,"v":0.48},{"i":172,"v":0.4},{"i":175.8,"v":0.44},{"i":179.6,"v":0.37},{"i":183.5,"v":0.22},{"i":187.3,"v":0.08},
      {"i":190.5,"v":0.08},{"i":192.5,"v":0.48},{"i":195,"v":1.02},{"i":197.6,"v":1.45},{"i":199.5,"v":1.67},{"i":201.9,"v":2.36},
      {"i":205.8,"v":2.54},{"i":209.6,"v":2.65},{"i":212.2,"v":2.72},{"i":214.1,"v":2.1},{"i":216,"v":1.2},{"i":218.6,"v":0.48},
      {"i":222.4,"v":0.0},{"i":226.3,"v":-0.07},{"i":230.1,"v":-0.07},{"i":232.7,"v":0.11},{"i":234.6,"v":0.84},{"i":236.5,"v":1.2},
      {"i":240.4,"v":1.38},{"i":244.2,"v":1.09},{"i":248.1,"v":0.48},{"i":251.9,"v":-0.07},{"i":255.7,"v":-0.61},{"i":259.6,"v":-0.9},
      {"i":263.4,"v":-0.97},{"i":267.3,"v":-0.97},{"i":271.1,"v":-1.15},{"i":275,"v":-1.44},{"i":278.8,"v":-1.44},{"i":281.4,"v":-1.15},
      {"i":285.2,"v":-1.08},{"i":289.1,"v":-0.97},{"i":292.9,"v":-1.08},{"i":296.1,"v":-1.15},{"i":298,"v":-1.51},{"i":300.6,"v":-1.69},
      {"i":303.1,"v":-1.8},{"i":305.7,"v":-1.51},{"i":308.3,"v":-1.33},{"i":312.1,"v":-0.97},{"i":316,"v":-0.54},{"i":319.8,"v":0.11},
      {"i":323.6,"v":1.09},{"i":326.2,"v":1.56},{"i":330,"v":1.81},{"i":332.6,"v":1.89},{"i":335.2,"v":1.74},{"i":337.7,"v":1.63},
      {"i":340.3,"v":1.7}
    ],
    "signal": [
      {"i":0,"v":-3.14},{"i":6.6,"v":-2.96},{"i":11.7,"v":-2.6},{"i":15.5,"v":-2.05},{"i":19.4,"v":-1.15},{"i":23.2,"v":-0.25},
      {"i":25.8,"v":0.22},{"i":29.6,"v":0.37},{"i":34.8,"v":0.29},{"i":39.9,"v":0.19},{"i":43.7,"v":0.22},{"i":46.3,"v":0.11},
      {"i":48.9,"v":-0.43},{"i":51.4,"v":-0.79},{"i":54,"v":-0.72},{"i":57.9,"v":-0.43},{"i":61.7,"v":-0.07},{"i":65.5,"v":0.37},
      {"i":70.7,"v":0.73},{"i":75.8,"v":0.91},{"i":82.2,"v":0.95},{"i":86.1,"v":0.84},{"i":88.6,"v":0.58},{"i":92.5,"v":0.29},
      {"i":96.3,"v":0.0},{"i":101.4,"v":-0.14},{"i":106.6,"v":-0.14},{"i":110.4,"v":-0.5},{"i":113,"v":-0.86},{"i":115.5,"v":-1.22},
      {"i":118.1,"v":-1.15},{"i":122,"v":-0.9},{"i":125.8,"v":-0.61},{"i":129.6,"v":-0.07},{"i":133.5,"v":0.04},{"i":137.3,"v":0.08},
      {"i":141.2,"v":0.08},{"i":145,"v":0.22},{"i":148.9,"v":0.37},{"i":152.7,"v":0.11},{"i":156.6,"v":0.0},{"i":160.4,"v":0.04},
      {"i":164.3,"v":0.11},{"i":168.1,"v":0.29},{"i":172,"v":0.44},{"i":175.8,"v":0.44},{"i":179.6,"v":0.37},{"i":183.5,"v":0.29},
      {"i":187.3,"v":0.08},{"i":191.2,"v":0.11},{"i":193.7,"v":0.37},{"i":196.9,"v":0.84},{"i":199,"v":1.25},{"i":201.9,"v":1.92},
      {"i":205.8,"v":2.28},{"i":209.6,"v":2.54},{"i":212.2,"v":2.65},{"i":216,"v":2.1},{"i":219.9,"v":1.2},{"i":223.7,"v":0.29},
      {"i":227.6,"v":-0.07},{"i":231.4,"v":-0.14},{"i":235.3,"v":0.22},{"i":239.1,"v":0.73},{"i":242.9,"v":1.2},{"i":246.8,"v":1.02},
      {"i":250.6,"v":0.48},{"i":254.5,"v":-0.07},{"i":258.3,"v":-0.61},{"i":262.2,"v":-0.9},{"i":266,"v":-1.08},{"i":269.8,"v":-1.22},
      {"i":275,"v":-1.44},{"i":280.1,"v":-1.4},{"i":285.2,"v":-1.15},{"i":290.3,"v":-1.04},{"i":295.5,"v":-1.08},{"i":299.3,"v":-1.33},
      {"i":303.1,"v":-1.58},{"i":307,"v":-1.58},{"i":310.8,"v":-1.51},{"i":314.7,"v":-1.15},{"i":318.5,"v":-0.79},{"i":322.4,"v":-0.25},
      {"i":326.2,"v":0.48},{"i":330,"v":1.2},{"i":333.9,"v":1.81},{"i":337.7,"v":1.74},{"i":340.3,"v":1.68}
    ]
  },
  "vconcat": [
    {
      "width": 1366,
      "height": 519,
      "layer": [
        {
          "data": {"values": [
            {"x0":-0.64,"x1":297.5,"y0":917.83,"y1":920.3},
            {"x0":-0.64,"x1":297.5,"y0":906.17,"y1":909.03},
            {"x0":130.2,"x1":133.2,"y0":907.54,"y1":918.65},
            {"x0":187.4,"x1":190.5,"y0":918.65,"y1":929.8}
          ]},
          "mark": {"type": "rect", "fill": "#eef2fb", "fillOpacity": 0.75, "stroke": "#1a237e", "strokeWidth": 1.2},
          "encoding": {
            "x": {"field": "x0", "type": "quantitative", "title": null,
              "scale": {"domain": [-1.116, 379.77], "nice": false, "zero": false, "padding": 0},
              "axis": {"values": [0,37,74,111,148,185,222,259,296,333,370], "tickCount": 20, "grid": true, "labels": false, "ticks": false,
                "domain": true, "domainColor": "#d2d2d2", "domainWidth": 2, "gridColor": "#eeeeee"}},
            "x2": {"field": "x1"},
            "y": {"field": "y0", "type": "quantitative", "title": null,
              "scale": {"type": "log", "domain": [905.615, 934.216], "nice": false, "zero": false, "padding": 0},
              "axis": {"orient": "right", "values": [905.94,907.86,909.79,911.72,913.66,915.6,917.54,919.49,923.4,925.36,927.32,929.29,931.26],
                "tickCount": 20, "format": ".2f", "domain": false, "ticks": true, "tickSize": 4, "tickColor": "#e4e4e4", "labelPadding": 4,
                "labelFlush": false, "labelOverlap": false, "grid": true, "gridColor": "#eeeeee"}},
            "y2": {"field": "y1"}
          }
        },
        {
          "data": {"values": [{"p":929.9},{"p":924.65},{"p":907.75}]},
          "mark": {"type": "rule", "stroke": "#4a5bbf", "strokeWidth": 1.2, "strokeDash": [7, 5]},
          "encoding": {"y": {"field": "p", "type": "quantitative", "title": null}}
        },
        {
          "data": {"values": [{"a":160.2,"b":379.77,"p":915.89}]},
          "mark": {"type": "rule", "stroke": "#4a5bbf", "strokeWidth": 1.2, "strokeDash": [7, 5]},
          "encoding": {
            "x": {"field": "a", "type": "quantitative", "title": null},
            "x2": {"field": "b"},
            "y": {"field": "p", "type": "quantitative", "title": null}
          }
        },
        {
          "data": {"values": [{"p":918.65},{"p":911.78}]},
          "mark": {"type": "rule", "stroke": "#1b6e4c", "strokeWidth": 1.2, "strokeDash": [7, 5]},
          "encoding": {"y": {"field": "p", "type": "quantitative", "title": null}}
        },
        {
          "data": {"values": [{"p":921.65}]},
          "mark": {"type": "rule", "stroke": "#8e979b", "strokeWidth": 1},
          "encoding": {"y": {"field": "p", "type": "quantitative", "title": null}}
        },
        {
          "data": {"name": "sma200"},
          "mark": {"type": "line", "stroke": "#ee4d4d", "strokeWidth": 1, "interpolate": "monotone"},
          "encoding": {
            "x": {"field": "i", "type": "quantitative", "title": null},
            "y": {"field": "v", "type": "quantitative", "title": null}
          }
        },
        {
          "data": {"name": "sma50"},
          "mark": {"type": "line", "stroke": "#2f3590", "strokeWidth": 1.1, "interpolate": "monotone"},
          "encoding": {
            "x": {"field": "i", "type": "quantitative", "title": null},
            "y": {"field": "v", "type": "quantitative", "title": null}
          }
        },
        {
          "data": {"name": "candles"},
          "mark": {"type": "rule", "strokeWidth": 1},
          "encoding": {
            "x": {"field": "i", "type": "quantitative", "title": null},
            "y": {"field": "l", "type": "quantitative", "title": null},
            "y2": {"field": "h"},
            "color": {"condition": {"test": "datum.c >= datum.o", "value": "#1c6e49"}, "value": "#b01e30"}
          }
        },
        {
          "data": {"name": "candles"},
          "mark": {"type": "bar", "size": 2.8, "strokeWidth": 0.6},
          "encoding": {
            "x": {"field": "i", "type": "quantitative", "title": null},
            "y": {"field": "o", "type": "quantitative", "title": null},
            "y2": {"field": "c"},
            "fill": {"condition": {"test": "datum.c >= datum.o", "value": "#2a9d68"}, "value": "#e3293f"},
            "stroke": {"condition": {"test": "datum.c >= datum.o", "value": "#1c6e49"}, "value": "#a71d2d"}
          }
        },
        {
          "data": {"values": [{"i":9.07,"p":907.46,"k":"a"},{"i":44.8,"p":907.35,"k":"b"},{"i":109.8,"p":907.35,"k":"c"}]},
          "mark": {"type": "point", "filled": true, "fill": "#cfe7dc", "fillOpacity": 0.45, "stroke": "#2e7d5b", "strokeWidth": 1, "opacity": 1, "size": 10000, "clip": true},
          "encoding": {
            "x": {"field": "i", "type": "quantitative", "title": null},
            "y": {"field": "p", "type": "quantitative", "title": null},
            "shape": {"field": "k", "type": "nominal", "legend": null,
              "scale": {"domain": ["a","b","c"], "range": [
                "M0,-1C0.204,-1 0.37,-0.552 0.37,0C0.37,0.552 0.204,1 0,1C-0.204,1 -0.37,0.552 -0.37,0C-0.37,-0.552 -0.204,-1 0,-1Z",
                "M0,-1C0.094,-1 0.17,-0.552 0.17,0C0.17,0.552 0.094,1 0,1C-0.094,1 -0.17,0.552 -0.17,0C-0.17,-0.552 -0.094,-1 0,-1Z",
                "M0,-1C0.105,-1 0.19,-0.552 0.19,0C0.19,0.552 0.105,1 0,1C-0.105,1 -0.19,0.552 -0.19,0C-0.19,-0.552 -0.105,-1 0,-1Z"]}}
          }
        },
        {
          "data": {"values": [
            {"a":369.1,"b":379.77,"lo":929.52,"hi":930.28,"p":929.9,"t":"929.90"},
            {"a":369.1,"b":379.77,"lo":924.27,"hi":925.03,"p":924.65,"t":"924.65"},
            {"a":369.1,"b":379.77,"lo":915.51,"hi":916.27,"p":915.89,"t":"915.89"},
            {"a":369.1,"b":379.77,"lo":907.37,"hi":908.13,"p":907.75,"t":"907.75"}
          ]},
          "layer": [
            {
              "mark": {"type": "rect", "fill": "#3f51b5"},
              "encoding": {
                "x": {"field": "a", "type": "quantitative", "title": null},
                "x2": {"field": "b"},
                "y": {"field": "lo", "type": "quantitative", "title": null},
                "y2": {"field": "hi"}
              }
            },
            {
              "mark": {"type": "text", "color": "white", "fontSize": 11.5, "font": "Roboto", "align": "center", "baseline": "middle"},
              "encoding": {
                "x": {"datum": 374.5},
                "y": {"field": "p", "type": "quantitative", "title": null},
                "text": {"field": "t"}
              }
            }
          ]
        },
        {
          "data": {"values": [{"i":387.4,"p":921.65,"t":"921.65"}]},
          "layer": [
            {
              "mark": {"type": "point", "filled": true, "fill": "#8d979c", "opacity": 1, "strokeWidth": 0, "size": 3481,
                "shape": "M-1,0L-0.66,-0.254L1,-0.254L1,0.254L-0.66,0.254Z"},
              "encoding": {
                "x": {"field": "i", "type": "quantitative", "title": null},
                "y": {"field": "p", "type": "quantitative", "title": null}
              }
            },
            {
              "mark": {"type": "text", "color": "white", "fontSize": 12.5, "fontWeight": "bold", "font": "Roboto", "align": "center", "baseline": "middle", "dx": 4},
              "encoding": {
                "x": {"field": "i", "type": "quantitative", "title": null},
                "y": {"field": "p", "type": "quantitative", "title": null},
                "text": {"field": "t"}
              }
            }
          ]
        },
        {
          "data": {"values": [{"i":363.3,"p":918.98,"t":"61.8 (918.65)"},{"i":361.7,"p":912.08,"t":"100.0 (911.80)"}]},
          "mark": {"type": "text", "color": "#1b6e4c", "fontSize": 11.5, "font": "Roboto", "align": "left", "baseline": "middle", "clip": true},
          "encoding": {
            "x": {"field": "i", "type": "quantitative", "title": null},
            "y": {"field": "p", "type": "quantitative", "title": null},
            "text": {"field": "t"}
          }
        },
        {
          "data": {"values": [{"i":4.5,"p":933.21,"t":"USDCLP"}]},
          "mark": {"type": "text", "color": "#2b2b2b", "fontSize": 13, "fontWeight": "bold", "font": "Roboto", "align": "left", "baseline": "middle"},
          "encoding": {
            "x": {"field": "i", "type": "quantitative", "title": null},
            "y": {"field": "p", "type": "quantitative", "title": null},
            "text": {"field": "t"}
          }
        },
        {
          "data": {"values": [{"i":18.4,"p":933.21,"t":"CFD"}]},
          "mark": {"type": "text", "color": "#666666", "fontSize": 7.5, "font": "Roboto", "align": "left", "baseline": "middle"},
          "encoding": {
            "x": {"field": "i", "type": "quantitative", "title": null},
            "y": {"field": "p", "type": "quantitative", "title": null},
            "text": {"field": "t"}
          }
        },
        {
          "data": {"values": [{"i":25.4,"p":933.28,"t":"▼"},{"i":46.9,"p":933.28,"t":"▼"}]},
          "mark": {"type": "text", "color": "#8a8a8a", "fontSize": 8, "font": "DejaVu Sans", "align": "left", "baseline": "middle"},
          "encoding": {
            "x": {"field": "i", "type": "quantitative", "title": null},
            "y": {"field": "p", "type": "quantitative", "title": null},
            "text": {"field": "t"}
          }
        },
        {
          "data": {"values": [{"i":38.5,"p":933.18,"t":"M15"}]},
          "mark": {"type": "text", "color": "#555555", "fontSize": 11.5, "font": "Roboto", "align": "left", "baseline": "middle"},
          "encoding": {
            "x": {"field": "i", "type": "quantitative", "title": null},
            "y": {"field": "p", "type": "quantitative", "title": null},
            "text": {"field": "t"}
          }
        },
        {
          "data": {"values": [{"i":0.6,"p":907.08,"t":"≡ ✖ SMA [200, 0] 916.98"},{"i":0.6,"p":906.32,"t":"≡ ✖ SMA [50, 0] 914.85"}]},
          "mark": {"type": "text", "color": "#8a8a8a", "fontSize": 10.5, "font": "Roboto", "align": "left", "baseline": "middle"},
          "encoding": {
            "x": {"field": "i", "type": "quantitative", "title": null},
            "y": {"field": "p", "type": "quantitative", "title": null},
            "text": {"field": "t"}
          }
        },
        {
          "data": {"values": [
            {"i":360.2,"p":906.7,"t":"01","k":"n"},
            {"i":364.6,"p":906.7,"t":"M","k":"u"},
            {"i":369.2,"p":906.7,"t":"13","k":"n"},
            {"i":373.6,"p":906.7,"t":"seg","k":"u"}
          ]},
          "mark": {"type": "text", "fontSize": 15, "font": "Roboto", "align": "left", "baseline": "middle"},
          "encoding": {
            "x": {"field": "i", "type": "quantitative", "title": null},
            "y": {"field": "p", "type": "quantitative", "title": null},
            "text": {"field": "t"},
            "color": {"field": "k", "type": "nominal", "legend": null, "scale": {"domain": ["n","u"], "range": ["#ff9a1f", "#b4b4b4"]}}
          }
        }
      ]
    },
    {
      "width": 1366,
      "height": 86,
      "layer": [
        {
          "data": {"name": "rsi"},
          "mark": {"type": "line", "stroke": "#2196f3", "strokeWidth": 1.3},
          "encoding": {
            "x": {"field": "i", "type": "quantitative", "title": null,
              "scale": {"domain": [-1.116, 379.77], "nice": false, "zero": false, "padding": 0},
              "axis": {"values": [0,37,74,111,148,185,222,259,296,333,370], "tickCount": 20, "grid": true, "labels": false, "ticks": false,
                "domain": true, "domainColor": "#d2d2d2", "domainWidth": 2, "gridColor": "#eeeeee"}},
            "y": {"field": "v", "type": "quantitative", "title": null,
              "scale": {"domain": [0, 100], "nice": false, "padding": 0},
              "axis": {"orient": "right", "values": [0, 30, 70, 100], "tickCount": 10, "format": ".1f", "domain": false, "ticks": true, "tickSize": 4,
                "tickColor": "#e4e4e4", "labelPadding": 4, "labelFlush": false, "labelOverlap": false,
                "labelBaseline": {"condition": [{"test": "datum.value >= 100", "value": "top"}, {"test": "datum.value <= 0", "value": "bottom"}], "value": "middle"},
                "grid": true, "gridColor": "#e8e8e8"}}
          }
        },
        {
          "data": {"values": [{"i":0.6,"v":13.5,"t":"≡ ✖ RSI [14] 69.2"}]},
          "mark": {"type": "text", "color": "#8a8a8a", "fontSize": 10.5, "font": "Roboto", "align": "left", "baseline": "middle"},
          "encoding": {
            "x": {"field": "i", "type": "quantitative", "title": null},
            "y": {"field": "v", "type": "quantitative", "title": null},
            "text": {"field": "t"}
          }
        }
      ]
    },
    {
      "width": 1366,
      "height": 63,
      "layer": [
        {
          "data": {"name": "candles"},
          "mark": {"type": "bar", "size": 2.8},
          "encoding": {
            "x": {"field": "i", "type": "quantitative", "title": null,
              "scale": {"domain": [-1.116, 379.77], "nice": false, "zero": false, "padding": 0},
              "axis": {"values": [0,37,74,111,148,185,222,259,296,333,370], "tickCount": 20, "grid": true, "ticks": false, "domain": true,
                "domainColor": "#e6e6e6", "gridColor": "#eeeeee", "labelAlign": "left", "labelFlush": false, "labelPadding": 5,
                "labelFontSize": 12.5, "labelColor": "#333333",
                "labelExpr": "datum.value == 0 ? '04.08.2026 13:00' : datum.value == 37 ? '11:45' : datum.value == 74 ? '10:30' : datum.value == 111 ? '09:15' : datum.value == 148 ? '13:15' : datum.value == 185 ? '12:00' : datum.value == 222 ? '10:45' : datum.value == 259 ? '09:30' : datum.value == 296 ? '13:30' : datum.value == 333 ? '12:15' : '16:15'"}},
            "y": {"field": "m", "type": "quantitative", "title": null,
              "scale": {"domain": [-3.39631, 3.39631], "nice": false, "zero": false, "padding": 0},
              "axis": {"orient": "right", "values": [-3.39631, 0, 3.39631], "tickCount": 10, "format": ".5f", "domain": false, "ticks": true, "tickSize": 4,
                "tickColor": "#e4e4e4", "labelPadding": 4, "labelFlush": false, "labelOverlap": false,
                "labelBaseline": {"condition": [{"test": "datum.value >= 3", "value": "top"}, {"test": "datum.value <= -3", "value": "bottom"}], "value": "middle"},
                "grid": true, "gridColor": "#e8e8e8"}},
            "color": {"condition": {"test": "datum.m >= 0", "value": "#1f2a80"}, "value": "#f07a5a"}
          }
        },
        {
          "data": {"name": "signal"},
          "mark": {"type": "line", "stroke": "#f08268", "strokeWidth": 1.3, "interpolate": "monotone"},
          "encoding": {
            "x": {"field": "i", "type": "quantitative", "title": null},
            "y": {"field": "v", "type": "quantitative", "title": null}
          }
        },
        {
          "data": {"name": "macd"},
          "mark": {"type": "line", "stroke": "#3a3f94", "strokeWidth": 1.3, "interpolate": "monotone"},
          "encoding": {
            "x": {"field": "i", "type": "quantitative", "title": null},
            "y": {"field": "v", "type": "quantitative", "title": null}
          }
        },
        {
          "data": {"values": [{"i":0.6,"v":-2.55,"t":"≡ ✖ MACD [12, 26, 9] 1.70492, 1.68329"}]},
          "mark": {"type": "text", "color": "#8a8a8a", "fontSize": 10.5, "font": "Roboto", "align": "left", "baseline": "middle"},
          "encoding": {
            "x": {"field": "i", "type": "quantitative", "title": null},
            "y": {"field": "v", "type": "quantitative", "title": null},
            "text": {"field": "t"}
          }
        }
      ]
    }
  ]
}
